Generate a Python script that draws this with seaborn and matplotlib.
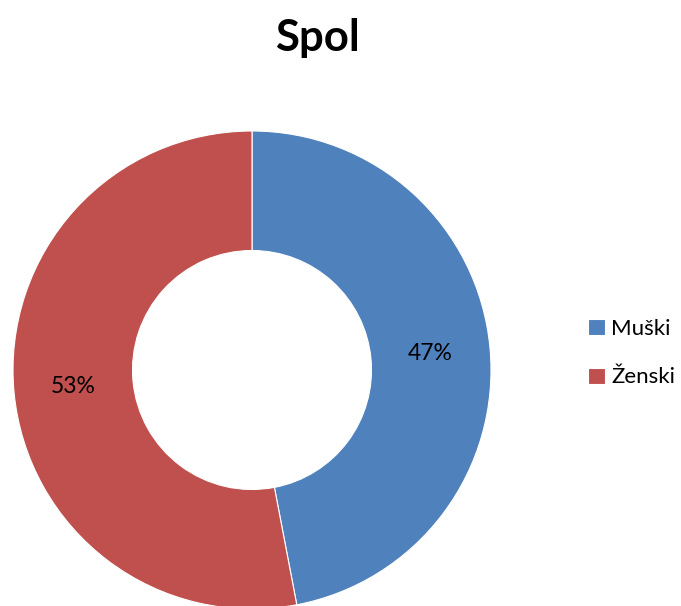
import matplotlib
matplotlib.use("Agg")
import matplotlib.pyplot as plt
import seaborn as sns

categories = ["Muški", "Ženski"]
values = [47, 53]
colors = ["#4F81BD", "#C0504D"]
title = "Spol"

sns.set_theme(style="white")
plt.rcParams['font.family'] = ['Lato', 'DejaVu Sans']
plt.rcParams['text.color'] = 'black'

W, H = 681, 606
fig = plt.figure(figsize=(W / 100, H / 100), dpi=100)

cx, cy, r = 252, 370, 239
ax = fig.add_axes([(cx - r) / W, (H - cy - r) / H, 2 * r / W, 2 * r / H])
wedges, texts, autotexts = ax.pie(
    values, colors=colors, startangle=90, counterclock=False,
    autopct=lambda p: f"{p:.0f}%", pctdistance=0.75,
    wedgeprops=dict(width=0.5, edgecolor="white", linewidth=0.8),
    textprops=dict(fontsize=16.5, color="black"),
)
for w in wedges:
    w.set_clip_on(False)
ax.set_xlim(-1, 1)
ax.set_ylim(-1, 1)
ax.set_aspect("equal")
ax.axis("off")

fig.text(317 / W, 1 - 38 / H, title, ha="center", va="center",
         fontsize=31.5, fontweight="bold", color="black")

fig.legend(wedges, categories, loc="center left",
           bbox_to_anchor=(579 / W, 1 - 353 / H), frameon=False,
           fontsize=16, handlelength=0.75, handleheight=0.75,
           handletextpad=0.3, labelspacing=1.3, borderaxespad=0)

fig.savefig("out.png", dpi=100)
